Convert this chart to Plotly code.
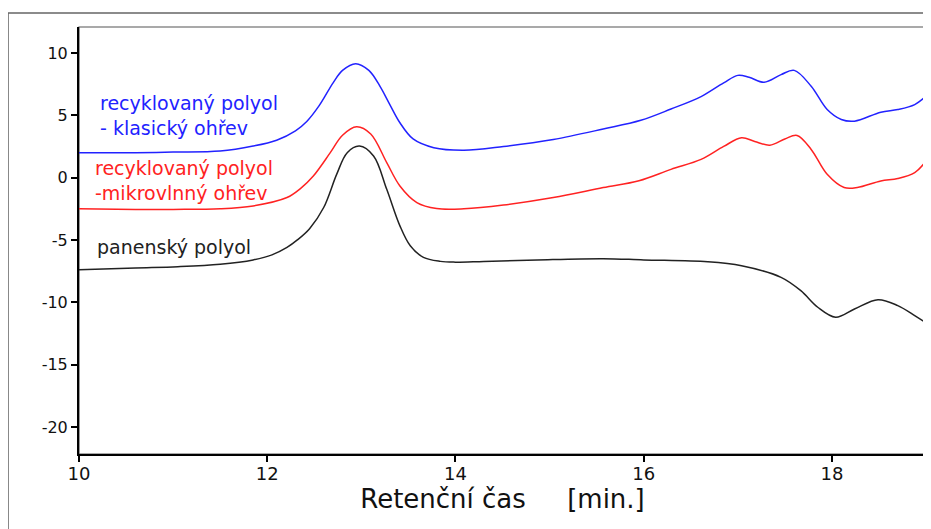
import plotly.graph_objects as go

# Blue: recyklovaný polyol - klasický ohřev
x_blue = [10.0, 10.6, 11.0, 11.5, 11.85, 12.1, 12.3, 12.42, 12.55, 12.7, 12.8, 12.94, 13.08, 13.2, 13.3,
          13.41, 13.55, 13.77, 14.09, 14.51, 15.04, 15.57, 15.97, 16.29, 16.61, 16.85, 17.0,
          17.12, 17.28, 17.46, 17.6, 17.78, 17.95, 18.1, 18.24, 18.52, 18.7, 18.88, 19.0]
y_blue = [2.0, 2.0, 2.05, 2.13, 2.53, 3.0, 3.75, 4.5, 5.75, 7.6, 8.6, 9.14, 8.6, 7.3, 5.9,
          4.4, 3.1, 2.4, 2.2, 2.5, 3.06, 3.9, 4.6, 5.5, 6.5, 7.6, 8.2,
          8.05, 7.65, 8.26, 8.6, 7.33, 5.46, 4.66, 4.53, 5.25, 5.46, 5.86, 6.53]

# Red: recyklovaný polyol - mikrovlnný ohřev
x_red = [10.0, 10.6, 11.0, 11.5, 11.85, 12.21, 12.35, 12.49, 12.67, 12.8, 12.95, 13.1, 13.27,
         13.41, 13.59, 13.8, 14.09, 14.51, 15.04, 15.57, 15.95, 16.29, 16.61, 16.85, 17.04,
         17.18, 17.34, 17.5, 17.63, 17.78, 17.95, 18.13, 18.27, 18.52, 18.7, 18.88, 19.0]
y_red = [-2.5, -2.55, -2.55, -2.5, -2.27, -1.6, -0.9, 0.13, 2.0, 3.4, 4.08, 3.5, 1.2,
         -0.67, -2.0, -2.48, -2.5, -2.2, -1.6, -0.8, -0.25, 0.66, 1.46, 2.5, 3.2,
         2.9, 2.6, 3.1, 3.38, 2.26, 0.26, -0.8, -0.8, -0.27, -0.08, 0.4, 1.33]

# Black: panenský polyol
x_black = [10.0, 10.6, 11.05, 11.5, 11.85, 12.05, 12.21, 12.32, 12.45, 12.6, 12.74, 12.85, 12.98,
           13.13, 13.27, 13.41, 13.52, 13.66, 13.84, 14.0, 14.3, 14.87, 15.57, 16.0, 16.68, 17.04,
           17.46, 17.67, 17.85, 18.04, 18.24, 18.49, 18.7, 18.88, 19.0]
y_black = [-7.4, -7.25, -7.15, -6.95, -6.6, -6.2, -5.6, -5.0, -4.1, -2.4, 0.3, 2.0, 2.53,
           1.73, -0.94, -3.87, -5.47, -6.4, -6.72, -6.78, -6.72, -6.6, -6.5, -6.6, -6.75, -7.07,
           -8.0, -9.07, -10.4, -11.2, -10.54, -9.79, -10.27, -11.07, -11.66]

x_ticks = [10, 12, 14, 16, 18]
y_ticks = [10, 5, 0, -5, -10, -15, -20]
y_tick_text = ["10", "5", "0", "-5", "-10", "-15", "-20"]

label_blue = "recyklovaný polyol<br>- klasický ohřev"
label_red = "recyklovaný polyol<br>-mikrovlnný ohřev"
label_black = "panenský polyol"
x_title = "Retenční čas\u00a0\u00a0\u00a0\u00a0\u00a0[min.]"

FONT = "DejaVu Sans"
BLUE, RED, BLACK = "#2222ff", "#ff2222", "#222222"

fig = go.Figure()
for xs, ys, col, name in [(x_blue, y_blue, BLUE, label_blue),
                          (x_red, y_red, RED, label_red),
                          (x_black, y_black, BLACK, label_black)]:
    fig.add_trace(go.Scatter(x=xs, y=ys, mode="lines", name=name.replace("<br>", " "),
                             line=dict(color=col, width=1.5, shape="spline", smoothing=1.0)))

ann = dict(xref="x", yref="y", showarrow=False, xanchor="left", yanchor="middle", align="left")
fig.add_annotation(x=10.2, y=5.02, text=label_blue, font=dict(family=FONT, size=19, color=BLUE), **ann)
fig.add_annotation(x=10.15, y=-0.22, text=label_red, font=dict(family=FONT, size=19, color=RED), **ann)
fig.add_annotation(x=10.17, y=-5.58, text=label_black, font=dict(family=FONT, size=19, color=BLACK), **ann)

# outer frame
fig.add_shape(type="rect", xref="paper", yref="paper", x0=-0.0838, x1=1.02, y0=-0.2, y1=1.0328,
              line=dict(color="#666666", width=1.5), layer="below")
# plot-area border (top/right gray)
fig.add_shape(type="rect", xref="paper", yref="paper", x0=0, x1=1, y0=0, y1=1,
              line=dict(color="#555555", width=1.2), layer="below")

fig.update_layout(
    width=923, height=521,
    margin=dict(l=71, r=5, t=19, b=75),
    paper_bgcolor="white", plot_bgcolor="white",
    showlegend=False,
    font=dict(family=FONT, color="#111111"),
    xaxis=dict(range=[10, 19], tickvals=x_ticks, showgrid=False, zeroline=False,
               showline=True, linecolor="black", linewidth=2, ticks="outside", ticklen=6,
               tickwidth=2, tickcolor="black", ticklabelstandoff=-4,
               tickfont=dict(family=FONT, size=18, color="#111111"),
               title=dict(text=x_title, font=dict(family=FONT, size=26, color="#111111"), standoff=3)),
    yaxis=dict(range=[-22.17, 12.08], tickvals=y_ticks, ticktext=y_tick_text, showgrid=False,
               zeroline=False, showline=True, linecolor="black", linewidth=2, ticks="outside",
               ticklen=6, tickwidth=2, tickcolor="black",
               tickfont=dict(family=FONT, size=16, color="#111111")),
)

fig.write_html("out.html")
